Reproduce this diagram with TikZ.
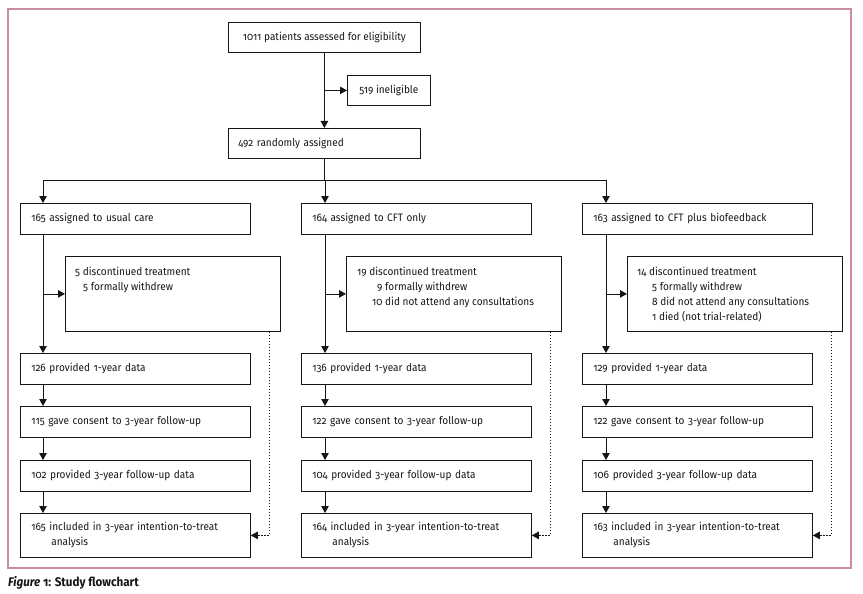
\documentclass[tikz,border=0pt]{standalone}
\usepackage{fontspec}
\setmainfont{Fira Sans}[Numbers=OldStyle, FakeStretch=0.93]
\usetikzlibrary{arrows.meta}
\definecolor{framepink}{RGB}{202,140,162}
\definecolor{ink}{RGB}{22,22,22}
\begin{document}
\begin{tikzpicture}[x=1pt,y=-1pt,
  every node/.style={text=ink},
  base/.style={draw=ink, line width=0.8pt, anchor=north west, inner ysep=0pt,
               font=\fontsize{10.8}{15}\selectfont},
  topbox/.style={base, minimum width=192pt, minimum height=30pt, inner xsep=0pt},
  smallbox/.style={base, minimum width=83pt, minimum height=30pt, inner xsep=0pt},
  randbox/.style={base, minimum height=30pt, text width=172pt, inner xsep=10pt, align=left},
  colbox/.style={base, minimum height=31pt, text width=208pt, inner xsep=11pt, align=left},
  discbox/.style={base, minimum width=215pt, minimum height=75pt, inner xsep=0pt},
  disctext/.style={anchor=north west, inner sep=0pt, align=left,
               font=\fontsize{10.8}{15}\selectfont},
  conn/.style={draw=ink, line width=0.8pt},
  arr/.style={conn, -{Triangle[length=7pt,width=7.5pt]}},
  dotarr/.style={draw=ink, line width=0.7pt, dash pattern=on 1.2pt off 1.8pt,
               -{Triangle[length=7pt,width=7.5pt]}}
]
\useasboundingbox (0,0) rectangle (863,594);
\draw[framepink, line width=1.1pt] (8,9) rectangle (851,568);

% top part
\node[topbox] (elig) at (228,22) {1011 patients assessed for eligibility};
\node[smallbox] (inel) at (347,75) {519 ineligible};
\node[randbox] (rand) at (228,128) {492 randomly assigned};
\draw[arr] (elig.south) -- (elig.south |- rand.north);
\draw[arr] (elig.south |- inel.west) -- (inel.west);

% split
\coordinate (v1) at (43,180);
\coordinate (v2) at (rand.south |- v1);
\coordinate (v3) at (606,180);
\draw[conn] (rand.south) -- (v2);
\draw[conn] (v1) -- (v3);

\coordinate (x1) at (43,0);
\coordinate (x2) at (325,0);
\coordinate (x3) at (606,0);

% column boxes
\node[colbox] (a1) at (20,203) {165 assigned to usual care};
\node[colbox] (a2) at (301,203) {164 assigned to CFT only};
\node[colbox] (a3) at (582,203) {163 assigned to CFT plus biofeedback};

\node[discbox] (d1) at (65,256) {};
\node[discbox] (d2) at (346,256) {};
\node[discbox] (d3) at (627,256) {};
\node[disctext] (d1t) at (75,267) {5 discontinued treatment\\\hspace*{8pt}5 formally withdrew};
\node[disctext] (d2t) at (357,267) {19 discontinued treatment\\\hspace*{20pt}9 formally withdrew\\\hspace*{15pt}10 did not attend any consultations};
\node[disctext] (d3t) at (637,267) {14 discontinued treatment\\\hspace*{15pt}5 formally withdrew\\\hspace*{15pt}8 did not attend any consultations\\\hspace*{15pt}1 died (not trial-related)};

\node[colbox] (p1) at (20,353) {126 provided 1-year data};
\node[colbox] (p2) at (301,353) {136 provided 1-year data};
\node[colbox] (p3) at (582,353) {129 provided 1-year data};

\node[colbox] (c1) at (20,406) {115 gave consent to 3-year follow-up};
\node[colbox] (c2) at (301,406) {122 gave consent to 3-year follow-up};
\node[colbox] (c3) at (582,406) {122 gave consent to 3-year follow-up};

\node[colbox] (f1) at (20,460) {102 provided 3-year follow-up data};
\node[colbox] (f2) at (301,460) {104 provided 3-year follow-up data};
\node[colbox] (f3) at (582,460) {106 provided 3-year follow-up data};

\node[colbox, minimum height=44pt] (t1) at (20,513) {165 included in 3-year intention-to-treat\\\hspace*{20pt}analysis};
\node[colbox, minimum height=44pt] (t2) at (301,513) {164 included in 3-year intention-to-treat\\\hspace*{20pt}analysis};
\node[colbox, minimum height=44pt] (t3) at (582,513) {163 included in 3-year intention-to-treat\\\hspace*{20pt}analysis};

\coordinate (k1) at (269,0);
\coordinate (k2) at (550,0);
\coordinate (k3) at (831,0);

\foreach \c in {1,2,3}{
  \draw[arr] (x\c |- v1) -- (x\c |- a\c.north);
  \draw[arr] (x\c |- a\c.south) -- (x\c |- p\c.north);
  \draw[arr] (x\c |- d\c.west) -- (d\c.west);
  \draw[arr] (x\c |- p\c.south) -- (x\c |- c\c.north);
  \draw[arr] (x\c |- c\c.south) -- (x\c |- f\c.north);
  \draw[arr] (x\c |- f\c.south) -- (x\c |- t\c.north);
  \draw[dotarr] (k\c |- d\c.south) -- (k\c |- t\c.east) -- (t\c.east);
}

\node[anchor=west, inner sep=0pt, text=ink, font=\bfseries\fontsize{12.5}{14}\selectfont] (cap) at (8,583) {\textit{Figure} 1: Study flowchart};
\end{tikzpicture}
\end{document}
